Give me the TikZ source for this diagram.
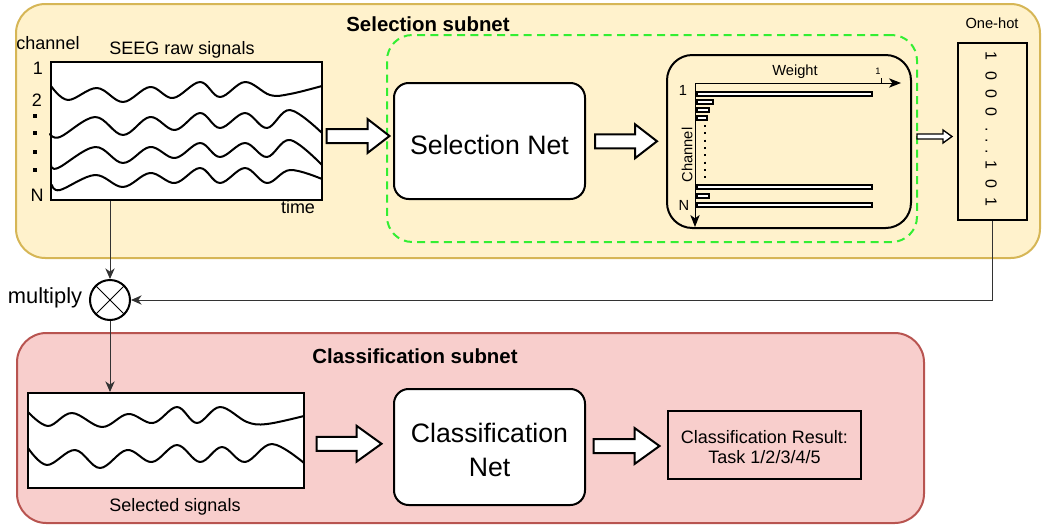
\documentclass[tikz,border=0pt]{standalone}
\usepackage{fontspec}
\setmainfont{Liberation Sans}
\usetikzlibrary{arrows.meta,calc,fit}
\definecolor{selfill}{HTML}{FFF2CC}
\definecolor{selline}{HTML}{D6B656}
\definecolor{clsfill}{HTML}{F8CECC}
\definecolor{clsline}{HTML}{B85450}
\definecolor{dgreen}{HTML}{33EE33}
% hollow block arrow: [style] center, length, shaft half height, head half height, head length
\newcommand\harrowat[6][]{%
  \begin{scope}[shift={#2}]
    \draw[harrow,#1] ({-#3/2},{-#4}) -- ({#3/2-#6},{-#4}) -- ({#3/2-#6},{-#5}) -- ({#3/2},0)
      -- ({#3/2-#6},{#5}) -- ({#3/2-#6},{#4}) -- ({-#3/2},{#4}) -- cycle;
  \end{scope}}
\begin{document}
\begin{tikzpicture}[x=0.75pt,y=-0.75pt,
  box/.style={draw, line width=1.5pt, inner sep=0pt},
  wbox/.style={box, fill=white},
  rbox/.style={box, fill=white, rounded corners=11pt},
  conn/.style={draw=black!80, line width=0.75pt, -{Stealth[length=8pt,width=7pt,inset=2.5pt]}},
  wave/.style={line width=1.5pt, line join=round, line cap=round},
  harrow/.style={draw, fill=white, line width=1.5pt, line join=miter},
  axisline/.style={line width=0.75pt, -{Stealth[length=9pt,width=7pt,inset=2.5pt]}},
  bar/.style={draw, fill=white, line width=1pt},
  txt/.style={inner sep=0pt, font=\fontsize{13.5}{16}\selectfont},
  smalltxt/.style={inner sep=0pt, font=\fontsize{11}{13}\selectfont},
  bigtxt/.style={inner sep=0pt, font=\fontsize{20}{25.5}\selectfont, align=center},
  titletxt/.style={inner sep=0pt, font=\bfseries\fontsize{15.3}{18}\selectfont},
]
\useasboundingbox (0,0) rectangle (1042,525);

% ---------- Selection subnet ----------
\node[fit={(16,4) (1040,258)}, inner sep=0pt, draw=selline, fill=selfill, line width=1.5pt, rounded corners=22pt] (selsub) {};
\node[titletxt] (seltitle) at (428,24) {Selection subnet};
\node[fit={(387,35) (917,242)}, inner sep=0pt, draw=dgreen, dash pattern=on 6pt off 4pt, line width=1.5pt, rounded corners=19pt] (greenbox) {};

% raw signals
\node[wbox, fit={(51,62) (322,200)}] (raw) {};
\node[txt] (chlab) at (48,43) {channel};
\node[txt] (rawlab) at (182,50) {SEEG raw signals};
\node[txt] (one) at (38,68) {1};
\node[txt] (two) at (37,100) {2};
\node[txt] (enn) at (37,195) {N};
\node[txt] (timelab) at (298,207) {time};
\foreach \yy in {116,133,152,170} \fill (33.2,\yy-1.8) rectangle (36.8,\yy+1.8);
\draw[wave] plot[smooth, tension=0.6] coordinates {(51,86) (68,100) (97,88) (123,102) (150,87) (173,98) (200,82) (220,97) (245,82) (270,95) (290,94) (322,86)};
\draw[wave] plot[smooth, tension=0.6] coordinates {(50,134) (60,137) (95,117) (123,135) (150,117) (175,130) (200,113) (220,128) (245,113) (267,128) (290,110) (322,133)};
\draw[wave] plot[smooth, tension=0.6] coordinates {(51,165) (58,168) (95,147) (123,163) (150,147) (175,158) (200,143) (220,157) (245,143) (267,157) (290,140) (322,165)};
\draw[wave] plot[smooth, tension=0.6] coordinates {(52,185) (60,190) (95,175) (123,187) (150,173) (175,183) (200,168) (220,183) (245,168) (267,183) (290,170) (322,179)};

% selection net
\node[rbox, fit={(394,83) (585,199)}] (selnet) {};
\node[bigtxt] (selnettxt) at ([yshift=-3pt]selnet.center) {Selection Net};

% weight chart
\node[fit={(667,55) (911,228)}, inner sep=0pt, draw, line width=1.5pt, rounded corners=19pt] (chart) {};
\draw[axisline] (695,83) -- (901,83);
\draw[axisline] (695,83) -- (695,227);
\draw[line width=0.6pt] (881,78) -- (881,83);
\node[inner sep=0pt, font=\fontsize{7}{8}\selectfont] (tick1) at (878,71) {1};
\node[smalltxt] (weightlab) at (795,71.5) {Weight};
\node[smalltxt] (cone) at (683,90) {1};
\node[smalltxt] (cN) at (684,205) {N};
\node[smalltxt, rotate=90] (channellab) at (687,155) {Channel};
\draw[bar] (697,92) rectangle (872,96);
\draw[bar] (697,100) rectangle (713,104);
\draw[bar] (697,108) rectangle (709,112);
\draw[bar] (697,116) rectangle (707,120);
\draw[bar] (697,185) rectangle (872,189);
\draw[bar] (697,194) rectangle (709,198);
\draw[bar] (697,203) rectangle (872,207);
\draw[line width=1.5pt, dash pattern=on 1.5pt off 4pt] (705,125) -- (705,183);

% one-hot
\node[box, fit={(958,43) (1027,220)}] (onehot) {};
\node[smalltxt] (onehotlab) at (992,23) {One-hot};
\node[inner sep=0pt, rotate=-90, font=\fontsize{12}{14}\selectfont] (onehotvec) at (991,129)
  {1\hspace{8pt}0\hspace{7pt}0\hspace{7pt}0\hspace{8pt}.\hspace{5pt}.\hspace{5pt}.\hspace{5pt}1\hspace{7pt}0\hspace{7pt}1};

% hollow arrows (selection)
\harrowat{($(raw.east)!0.5!(selnet.west)$)}{63}{7}{17}{22}
\harrowat{($(selnet.east)!0.5!(chart.west)$)}{62}{7}{17}{22}
\harrowat[line width=1pt]{($(chart.east)!0.5!(onehot.west)$)}{35}{2.5}{6.5}{9}

% ---------- multiply ----------
\node[circle, draw, line width=1.5pt, minimum size=30pt, inner sep=0pt] (mult) at (110,300) {};
\draw[line width=0.75pt] (mult.45) -- (mult.225) (mult.135) -- (mult.315);
\node[inner sep=0pt, font=\fontsize{16.4}{19}\selectfont] (multlab) at (45,298) {multiply};

% ---------- Classification subnet ----------
\node[fit={(17,333) (924,523)}, inner sep=0pt, draw=clsline, fill=clsfill, line width=1.5pt, rounded corners=22pt] (clssub) {};
\node[titletxt] (clstitle) at (415,356) {Classification subnet};

\node[wbox, fit={(28,393) (304,488)}] (sel) {};
\draw[wave] plot[smooth, tension=0.6] coordinates {(28,412) (48,426) (72,413) (102,427) (128,414) (153,423) (177,407) (197,423) (220,407) (247,422) (267,424) (304,416)};
\draw[wave] plot[smooth, tension=0.6] coordinates {(28,448) (47,465) (75,450) (100,468) (127,450) (152,462) (177,445) (200,462) (222,447) (245,462) (272,444) (304,463)};
\node[txt] (sellab) at (175,507) {Selected signals};

\node[rbox, fit={(394,389) (585,505)}] (clsnet) {};
\node[bigtxt] (clsnettxt) at ([yshift=-2pt]clsnet.center) {Classification\\Net};
\node[box, fit={(668,411) (861,479)}] (result) {};
\node[inner sep=0pt, align=center, font=\fontsize{13.5}{15}\selectfont] (resulttxt) at ([yshift=-1.5pt]result.center) {Classification Result:\\Task 1/2/3/4/5};

\harrowat{($(sel.east)!0.5!(clsnet.west)$)}{65}{7}{18}{25}
\harrowat{($(clsnet.east)!0.5!(result.west)$)}{66}{7}{18}{25}

% ---------- connectors ----------
\draw[conn] (raw.south -| mult.north) -- (mult.north);
\draw[conn] (onehot.south) |- (mult.east);
\draw[conn] (mult.south) -- (mult.south |- sel.north);
\end{tikzpicture}
\end{document}
